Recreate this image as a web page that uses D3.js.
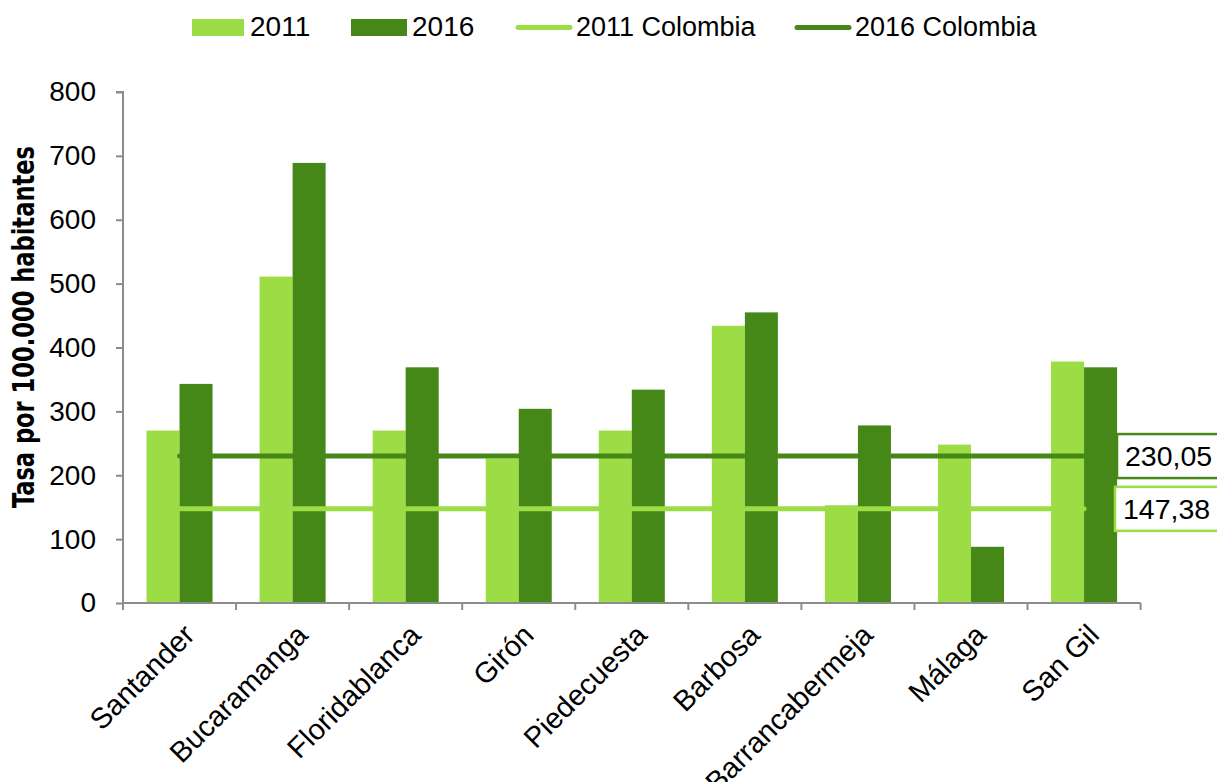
<!DOCTYPE html>
<html>
<head>
<meta charset="utf-8">
<script src="https://cdn.jsdelivr.net/npm/d3@7"></script>
<style>
  html, body { margin: 0; padding: 0; background: #fff; }
  svg { display: block; }
  text { font-family: "Liberation Sans", Arial, sans-serif; fill: #000; }
</style>
</head>
<body>
<script>
const categories = ["Santander", "Bucaramanga", "Floridablanca", "Girón", "Piedecuesta", "Barbosa", "Barrancabermeja", "Málaga", "San Gil"];
const values2011 = [270, 511, 270, 226, 270, 434, 153, 248, 378];
const values2016 = [343, 689, 369, 304, 334, 455, 278, 88, 369];
const colombia2011 = 147.38;
const colombia2016 = 230.05;
const yTicks = [0, 100, 200, 300, 400, 500, 600, 700, 800];
const seriesNames = ["2011", "2016", "2011 Colombia", "2016 Colombia"];
const yTitle = "Tasa por 100.000 habitantes";

const W = 1217, H = 782;
const light = "#9CDC45", dark = "#458818", axisColor = "#8C8C8C";
const X0 = 123, X1 = 1140.6;

const svg = d3.select("body").append("svg").attr("width", W).attr("height", H);

const x0 = d3.scaleBand().domain(categories).range([X0, X1]).paddingInner(0.416).paddingOuter(0.208);
const x1 = d3.scaleBand().domain(["2011", "2016"]).range([0, x0.bandwidth()]);
const y = d3.scaleLinear().domain([0, 800]).range([603, 92]);

// bars
const g = svg.append("g");
categories.forEach((c, i) => {
  [["2011", values2011[i], light], ["2016", values2016[i], dark]].forEach(([k, v, col]) => {
    g.append("rect")
      .attr("x", x0(c) + x1(k))
      .attr("y", y(v))
      .attr("width", x1.bandwidth())
      .attr("height", y(0) - y(v))
      .attr("fill", col);
  });
});

// Colombia reference lines
const xFirst = x0(categories[0]) + x0.bandwidth() / 2;
const xLast = x0(categories[categories.length - 1]) + x0.bandwidth() / 2;
[[colombia2016, dark], [colombia2011, light]].forEach(([v, col]) => {
  svg.append("line")
    .attr("x1", xFirst).attr("x2", xLast)
    .attr("y1", y(v)).attr("y2", y(v))
    .attr("stroke", col).attr("stroke-width", 5).attr("stroke-linecap", "round");
});

// data labels for the lines
const fmt = v => v.toFixed(2).replace(".", ",");
[[colombia2016, dark, 1117], [colombia2011, light, 1115]].forEach(([v, col, bx]) => {
  const cy = y(v);
  svg.append("rect")
    .attr("x", bx).attr("y", cy - 22).attr("width", 140).attr("height", 44)
    .attr("fill", "#fff").attr("stroke", col).attr("stroke-width", 2.5);
  svg.append("text")
    .attr("x", bx + 8).attr("y", cy + 10)
    .attr("font-size", 28.5)
    .text(fmt(v));
});

// Y axis
const yAxis = svg.append("g").attr("transform", `translate(${X0},0)`)
  .call(d3.axisLeft(y).tickValues(yTicks).tickSize(7).tickPadding(20).tickFormat(d3.format("d")));
yAxis.select(".domain").attr("stroke", axisColor).attr("stroke-width", 2)
  .attr("d", `M-7,${y(800)}H0V${y(0)}`);
yAxis.selectAll(".tick line").attr("stroke", axisColor).attr("stroke-width", 2);
yAxis.selectAll(".tick text").attr("font-size", 28).attr("fill", "#000")
  .attr("font-family", '"Liberation Sans", Arial, sans-serif');

// X axis
const xTickPos = categories.map((c, i) => X0 + i * x0.step()).concat([X1]);
svg.append("line").attr("x1", X0).attr("x2", X1).attr("y1", y(0)).attr("y2", y(0))
  .attr("stroke", axisColor).attr("stroke-width", 2);
xTickPos.forEach(px => {
  svg.append("line").attr("x1", px).attr("x2", px).attr("y1", y(0)).attr("y2", y(0) + 7)
    .attr("stroke", axisColor).attr("stroke-width", 2);
});
const xAxis = svg.append("g").attr("transform", `translate(0,${y(0)})`)
  .call(d3.axisBottom(x0).tickSize(0).tickPadding(0));
xAxis.select(".domain").remove();
xAxis.selectAll(".tick text")
  .attr("font-size", 29)
  .attr("font-family", '"Liberation Sans", Arial, sans-serif')
  .attr("fill", "#000")
  .attr("text-anchor", "end")
  .attr("dy", "0.72em")
  .attr("y", 0)
  .attr("transform", "translate(2,19) rotate(-45)");

// Y title
svg.append("text")
  .attr("transform", "translate(34,327) rotate(-90)")
  .attr("text-anchor", "middle")
  .attr("font-size", 31)
  .attr("font-weight", "bold")
  .style("font-family", '"Liberation Sans Narrow", "DejaVu Sans Condensed", sans-serif')
  .attr("textLength", 362)
  .attr("lengthAdjust", "spacingAndGlyphs")
  .text(yTitle);

// Legend
const leg = svg.append("g");
leg.append("rect").attr("x", 192).attr("y", 19).attr("width", 52).attr("height", 17).attr("fill", light);
leg.append("text").attr("x", 250).attr("y", 36).attr("font-size", 28).text(seriesNames[0]);
leg.append("rect").attr("x", 351).attr("y", 19).attr("width", 56).attr("height", 17).attr("fill", dark);
leg.append("text").attr("x", 412).attr("y", 36).attr("font-size", 28).text(seriesNames[1]);
leg.append("line").attr("x1", 518).attr("x2", 570).attr("y1", 27.5).attr("y2", 27.5)
  .attr("stroke", light).attr("stroke-width", 5).attr("stroke-linecap", "round");
leg.append("text").attr("x", 576).attr("y", 36).attr("font-size", 27).text(seriesNames[2]);
leg.append("line").attr("x1", 797).attr("x2", 849).attr("y1", 27.5).attr("y2", 27.5)
  .attr("stroke", dark).attr("stroke-width", 5).attr("stroke-linecap", "round");
leg.append("text").attr("x", 855).attr("y", 36).attr("font-size", 27).text(seriesNames[3]);
</script>
</body>
</html>
